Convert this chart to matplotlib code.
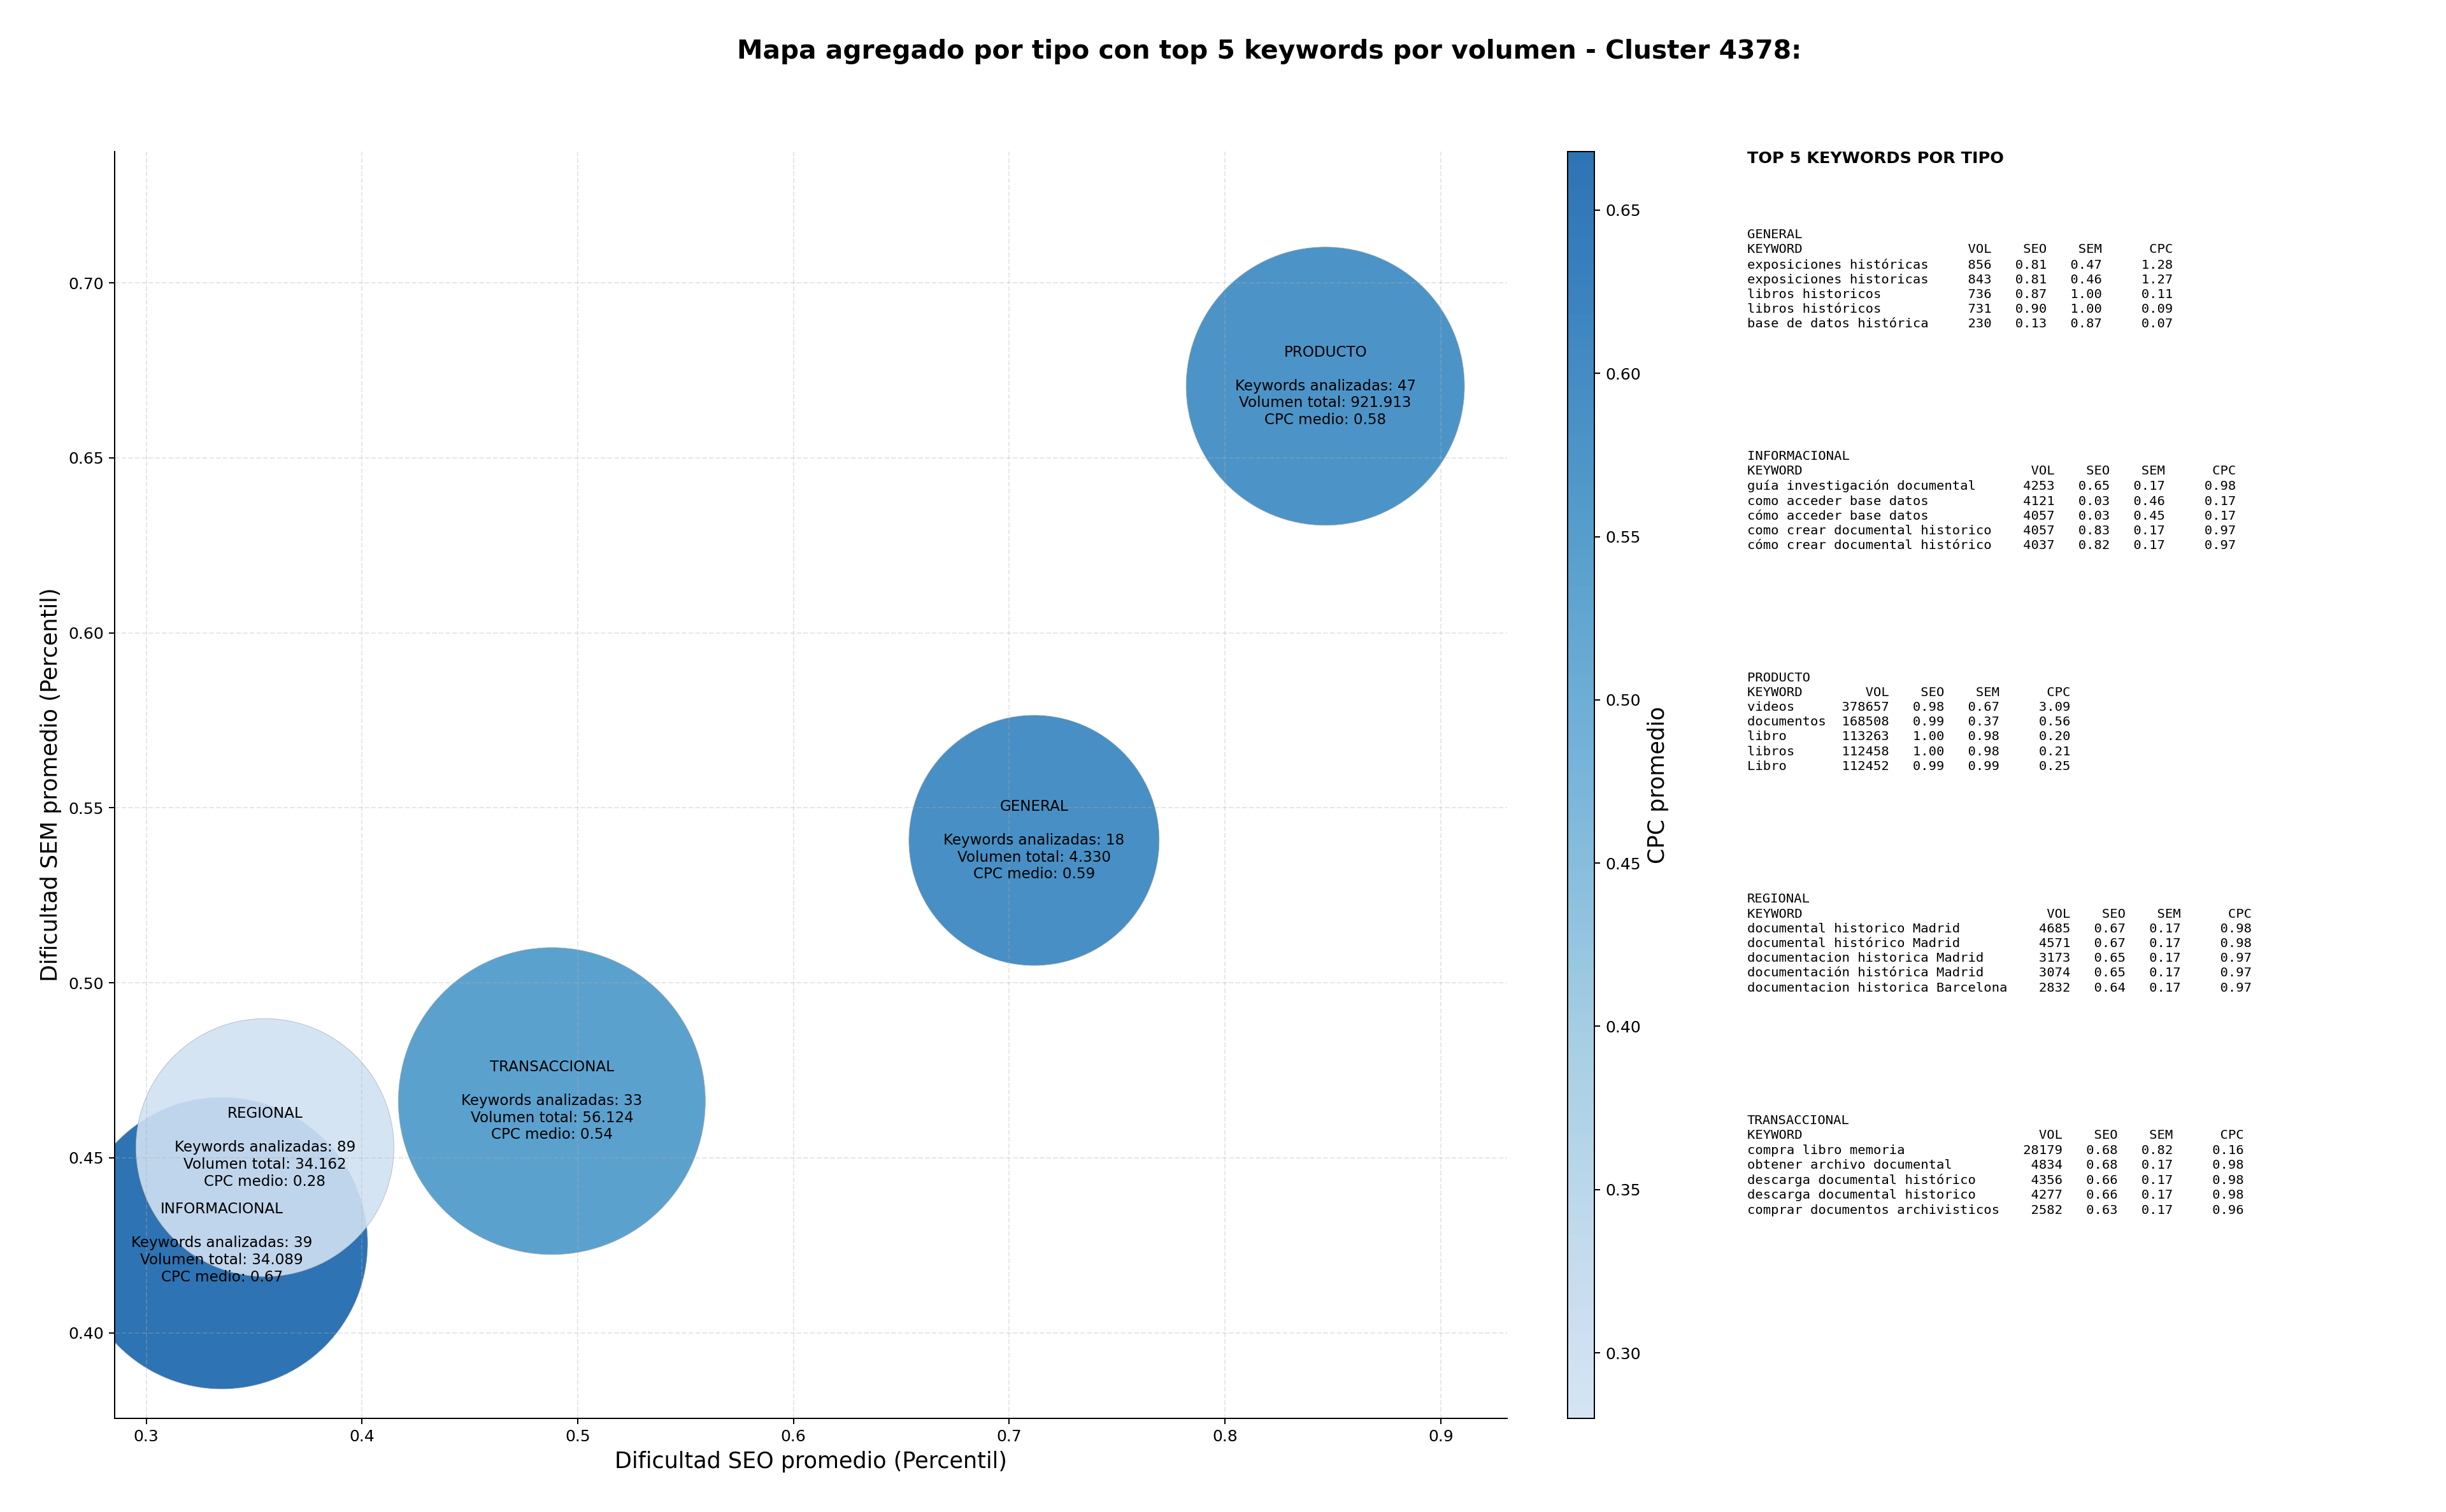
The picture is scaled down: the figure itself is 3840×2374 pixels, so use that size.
import numpy as np
import matplotlib
matplotlib.use('Agg')
import matplotlib.pyplot as plt
from matplotlib.colors import ListedColormap

# aggregated values per keyword type
tipos = ['GENERAL', 'INFORMACIONAL', 'PRODUCTO', 'REGIONAL', 'TRANSACCIONAL']
seo_medio = [0.7115, 0.335, 0.8465, 0.355, 0.488]
sem_medio = [0.5407, 0.4256, 0.6705, 0.4529, 0.4662]
cpc_medio = [0.59, 0.668, 0.58, 0.280, 0.54]
n_keywords = [18, 39, 47, 89, 33]
vol_total = [4330, 34089, 921913, 34162, 56124]
bubble_size = [24700, 33560, 30550, 26240, 37170]

# top 5 keywords per type: (keyword, vol, seo, sem, cpc)
top5 = {
    'GENERAL': [
        ('exposiciones históricas', 856, 0.81, 0.47, 1.28),
        ('exposiciones historicas', 843, 0.81, 0.46, 1.27),
        ('libros historicos', 736, 0.87, 1.00, 0.11),
        ('libros históricos', 731, 0.90, 1.00, 0.09),
        ('base de datos histórica', 230, 0.13, 0.87, 0.07),
    ],
    'INFORMACIONAL': [
        ('guía investigación documental', 4253, 0.65, 0.17, 0.98),
        ('como acceder base datos', 4121, 0.03, 0.46, 0.17),
        ('cómo acceder base datos', 4057, 0.03, 0.45, 0.17),
        ('como crear documental historico', 4057, 0.83, 0.17, 0.97),
        ('cómo crear documental histórico', 4037, 0.82, 0.17, 0.97),
    ],
    'PRODUCTO': [
        ('videos', 378657, 0.98, 0.67, 3.09),
        ('documentos', 168508, 0.99, 0.37, 0.56),
        ('libro', 113263, 1.00, 0.98, 0.20),
        ('libros', 112458, 1.00, 0.98, 0.21),
        ('Libro', 112452, 0.99, 0.99, 0.25),
    ],
    'REGIONAL': [
        ('documental historico Madrid', 4685, 0.67, 0.17, 0.98),
        ('documental histórico Madrid', 4571, 0.67, 0.17, 0.98),
        ('documentacion historica Madrid', 3173, 0.65, 0.17, 0.97),
        ('documentación histórica Madrid', 3074, 0.65, 0.17, 0.97),
        ('documentacion historica Barcelona', 2832, 0.64, 0.17, 0.97),
    ],
    'TRANSACCIONAL': [
        ('compra libro memoria', 28179, 0.68, 0.82, 0.16),
        ('obtener archivo documental', 4834, 0.68, 0.17, 0.98),
        ('descarga documental histórico', 4356, 0.66, 0.17, 0.98),
        ('descarga documental historico', 4277, 0.66, 0.17, 0.98),
        ('comprar documentos archivisticos', 2582, 0.63, 0.17, 0.96),
    ],
}

cmap = ListedColormap(plt.cm.Blues(np.linspace(0.2, 0.8, 256)))

fig = plt.figure(figsize=(3840 / 180, 2374 / 180), dpi=180)
ax = fig.add_axes([0.0470, 0.0621, 0.6161 - 0.0470, 0.8999 - 0.0621])
cax = fig.add_axes([0.6408, 0.0621, 0.0109, 0.8999 - 0.0621])

sc = ax.scatter(seo_medio, sem_medio, s=bubble_size, c=cpc_medio, cmap=cmap,
                alpha=0.9, edgecolors='#aaaaaa', linewidths=0.3)

for t, x, y, n, v, c in zip(tipos, seo_medio, sem_medio, n_keywords, vol_total, cpc_medio):
    vol_txt = f'{v:,}'.replace(',', '.')
    ax.text(x, y, f'{t}\n\nKeywords analizadas: {n}\nVolumen total: {vol_txt}\nCPC medio: {c:.2f}',
            ha='center', va='center', fontsize=9.2)

ax.set_xlim(0.2855, 0.9307)
ax.set_ylim(0.3756, 0.7376)
ax.grid(True, linestyle='--', alpha=0.3)
ax.spines['top'].set_visible(False)
ax.spines['right'].set_visible(False)
ax.set_xlabel('Dificultad SEO promedio (Percentil)', fontsize=14)
ax.set_ylabel('Dificultad SEM promedio (Percentil)', fontsize=14)

cb = fig.colorbar(sc, cax=cax)
cb.set_label('CPC promedio', fontsize=14)

fig.text(0.519, 0.966, 'Mapa agregado por tipo con top 5 keywords por volumen - Cluster 4378:',
         ha='center', va='center', fontsize=16.3, fontweight='bold')

# text panel with the top keywords
fig.text(0.7143, 0.9, 'TOP 5 KEYWORDS POR TIPO', ha='left', va='top',
         fontsize=10.2, fontweight='bold')
y0 = 0.8488
for i, t in enumerate(tipos):
    rows = top5[t]
    w = max(len(r[0]) for r in rows)
    lines = [t, f"{'KEYWORD':<{w}}{'VOL':>8}{'SEO':>7}{'SEM':>7}{'CPC':>9}"]
    for kw, vol, s1, s2, cp in rows:
        lines.append(f'{kw:<{w}}{vol:>8}{s1:>7.2f}{s2:>7.2f}{cp:>9.2f}')
    fig.text(0.7143, y0 - i * 0.1465, '\n'.join(lines), ha='left', va='top',
             fontsize=8.2, family='DejaVu Sans Mono', linespacing=1.28)

fig.savefig('out.png', dpi=180)
